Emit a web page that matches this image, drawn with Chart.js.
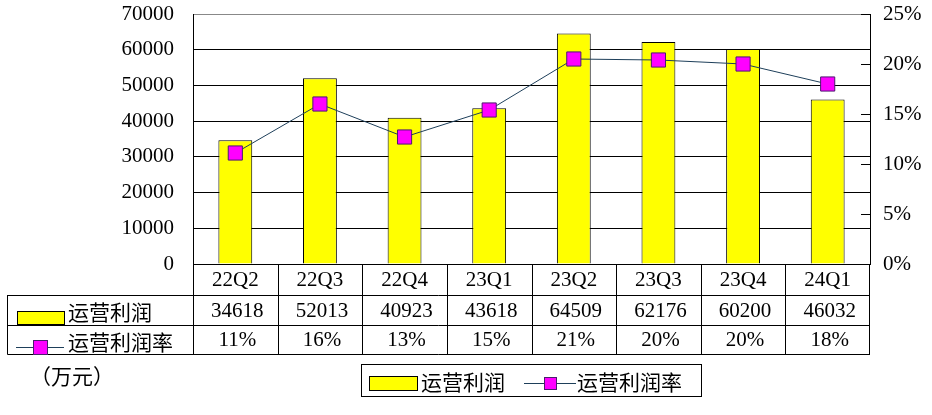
<!DOCTYPE html>
<html>
<head>
<meta charset="utf-8">
<script src="https://cdn.jsdelivr.net/npm/chart.js@4"></script>
<style>
  body { margin: 0; background: #fff; }
  #wrap { width: 932px; height: 415px; position: relative; }
</style>
</head>
<body>
<div id="wrap"><canvas id="profitChart"></canvas></div>
<script>
// 数据
const quarters = ["22Q2", "22Q3", "22Q4", "23Q1", "23Q2", "23Q3", "23Q4", "24Q1"];
const operatingProfit = [34618, 52013, 40923, 43618, 64509, 62176, 60200, 46032];
const profitRate = [11.1, 16.0, 12.7, 15.4, 20.5, 20.4, 20.0, 18.0];
const profitLabel = "运营利润";
const rateLabel = "运营利润率";
const unitLabel = "（万元）";

const NUM_FONT = '21px "Liberation Serif", "DejaVu Serif", serif';
const CJK_FONT = '21px "Noto Sans CJK SC", sans-serif';
const BAR_FILL = "#FFFF00";
const MARK_FILL = "#FF00FF";
const MARK_EDGE = "#4B1C6E";
const LINE_COLOR = "#1E3F5A";

// ============================================================
//  表格 + 图例 (画在图表下方)
// ============================================================

function drawBarKey(ctx, x, y, w, h) {
    ctx.fillStyle = BAR_FILL;
    ctx.fillRect(x, y, w, h);
    ctx.strokeStyle = "#000";
    ctx.lineWidth = 1;
    ctx.strokeRect(x + 0.5, y + 0.5, w, h);
}

function drawLineKey(ctx, x, y, w, s) {
    ctx.strokeStyle = LINE_COLOR;
    ctx.lineWidth = 1;
    ctx.beginPath();
    ctx.moveTo(x, y + 0.5);
    ctx.lineTo(x + w, y + 0.5);
    ctx.stroke();
    const cx = x + w / 2;
    ctx.fillStyle = MARK_FILL;
    ctx.fillRect(cx - s / 2, y - s / 2, s, s);
    ctx.strokeStyle = MARK_EDGE;
    ctx.strokeRect(cx - s / 2 + 0.5, y - s / 2 + 0.5, s, s);
}

const tablePlugin = {
    id: "dataTable",
    afterDatasetsDraw(chart) {
        const ctx = chart.ctx;
        const x = chart.scales.x;
        const y1 = chart.scales.y1;
        const area = chart.chartArea;
        const half = (x.getPixelForValue(1) - x.getPixelForValue(0)) / 2;
        const rowTop = area.bottom;
        const rows = [rowTop, rowTop + 31, rowTop + 61, rowTop + 90];
        const tableLeft = 7.5;

        ctx.save();

        // 右轴刻度 (向内)
        ctx.strokeStyle = "#000";
        ctx.lineWidth = 1;
        y1.ticks.forEach(t => {
            const py = Math.round(y1.getPixelForValue(t.value)) + 0.5;
            ctx.beginPath();
            ctx.moveTo(area.right - 9, py);
            ctx.lineTo(area.right, py);
            ctx.stroke();
        });

        // 表格线
        ctx.beginPath();
        ctx.moveTo(area.left, rows[0] + 0.5);
        ctx.lineTo(area.right, rows[0] + 0.5);
        for (let r = 1; r < rows.length; r++) {
            ctx.moveTo(tableLeft, rows[r] + 0.5);
            ctx.lineTo(area.right, rows[r] + 0.5);
        }
        ctx.moveTo(tableLeft, rows[1]);
        ctx.lineTo(tableLeft, rows[3] + 0.5);
        quarters.forEach((q, i) => {
            const px = Math.round(x.getPixelForValue(i) - half) + 0.5;
            ctx.moveTo(px, rows[0]);
            ctx.lineTo(px, rows[3]);
        });
        const lastX = Math.round(x.getPixelForValue(quarters.length - 1) + half) - 0.5;
        ctx.moveTo(lastX, rows[0]);
        ctx.lineTo(lastX, rows[3]);
        ctx.stroke();

        // 表格文字
        ctx.fillStyle = "#000";
        ctx.textAlign = "center";
        ctx.textBaseline = "middle";
        ctx.font = NUM_FONT;
        quarters.forEach((q, i) => {
            const px = x.getPixelForValue(i);
            ctx.fillText(q, px, rows[0] + 16);
            ctx.fillText(String(operatingProfit[i]), px + 2, rows[1] + 16);
            ctx.fillText(Math.round(profitRate[i]) + "%", px + 2, rows[2] + 15);
        });

        // 行标题
        drawBarKey(ctx, 17, rows[1] + 16, 47, 13);
        drawLineKey(ctx, 16, rows[2] + 22, 48, 14);
        ctx.fillStyle = "#000";
        ctx.textAlign = "left";
        ctx.font = CJK_FONT;
        ctx.fillText(profitLabel, 68, rows[1] + 17);
        ctx.fillText(rateLabel, 68, rows[2] + 17);

        // 单位
        ctx.fillText(unitLabel, 30, 376);

        // 图例
        ctx.strokeStyle = "#000";
        ctx.lineWidth = 1;
        ctx.strokeRect(361.5, 364.5, 340, 32);
        drawBarKey(ctx, 369, 376, 48, 14);
        ctx.fillStyle = "#000";
        ctx.fillText(profitLabel, 421, 382);
        drawLineKey(ctx, 524, 383, 52, 12);
        ctx.fillStyle = "#000";
        ctx.fillText(rateLabel, 577, 382);

        ctx.restore();
    }
};

// ============================================================
//  图表
// ============================================================

const chart = new Chart(document.getElementById("profitChart"), {
    type: "bar",
    data: {
        labels: quarters,
        datasets: [
            {
                type: "line",
                label: rateLabel,
                data: profitRate,
                yAxisID: "y1",
                borderColor: LINE_COLOR,
                borderWidth: 1,
                tension: 0,
                pointStyle: "rect",
                pointRadius: 10,
                pointBackgroundColor: MARK_FILL,
                pointBorderColor: MARK_EDGE,
                pointBorderWidth: 1,
                order: 0
            },
            {
                label: profitLabel,
                data: operatingProfit,
                yAxisID: "y",
                backgroundColor: BAR_FILL,
                borderColor: "#000",
                borderWidth: 1,
                categoryPercentage: 1,
                barPercentage: 0.4,
                order: 1
            }
        ]
    },
    options: {
        responsive: true,
        maintainAspectRatio: false,
        animation: false,
        events: [],
        layout: { padding: { top: 14, bottom: 151, left: 0, right: 0 } },
        plugins: {
            legend: { display: false },
            tooltip: { enabled: false }
        },
        scales: {
            x: {
                display: false
            },
            y: {
                position: "left",
                min: 0,
                max: 70000,
                afterFit: s => { s.width = 193; },
                ticks: {
                    stepSize: 10000,
                    padding: 0,
                    color: "#000",
                    callback: v => String(v),
                    font: { family: '"Liberation Serif", serif', size: 21 }
                },
                grid: {
                    drawTicks: true,
                    tickLength: 19,
                    tickColor: "rgba(0,0,0,0)",
                    color: ctx => (ctx.tick && ctx.tick.value === 70000 ? "#888" : "#000"),
                    lineWidth: 1
                },
                border: { display: true, color: "#000" }
            },
            y1: {
                position: "right",
                min: 0,
                max: 25,
                afterFit: s => { s.width = 62; },
                ticks: {
                    stepSize: 5,
                    padding: 0,
                    color: "#000",
                    callback: v => v + "%",
                    font: { family: '"Liberation Serif", serif', size: 21 }
                },
                grid: {
                    drawOnChartArea: false,
                    drawTicks: true,
                    tickLength: 13,
                    tickColor: "rgba(0,0,0,0)"
                },
                border: { display: true, color: "#000" }
            }
        }
    },
    plugins: [tablePlugin]
});
</script>
</body>
</html>
